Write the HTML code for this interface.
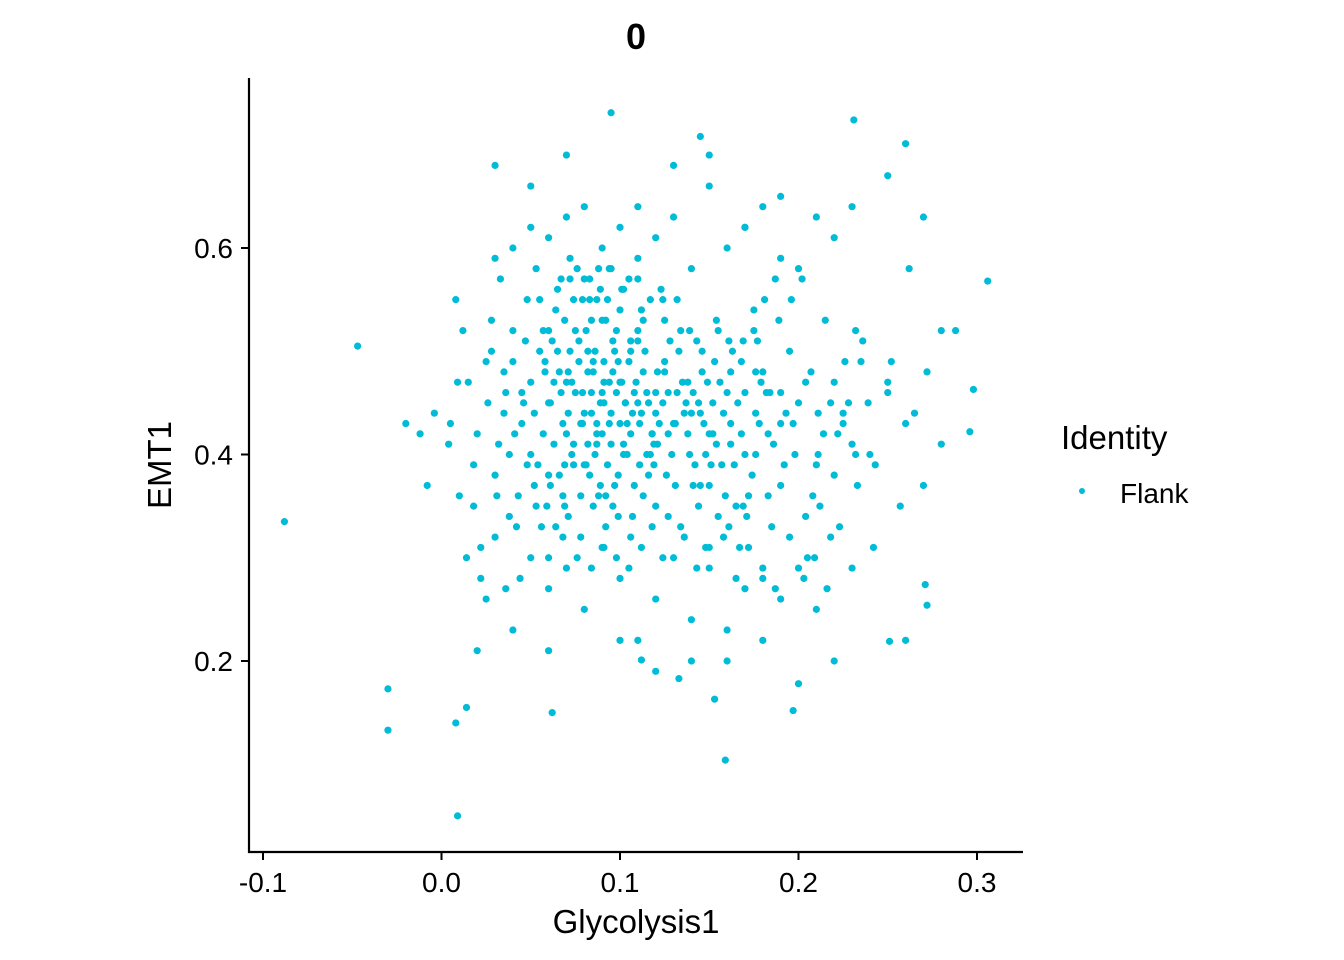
<!DOCTYPE html>
<html><head><meta charset="utf-8">
<style>
html,body{margin:0;padding:0;background:#fff;}
svg{display:block;font-family:"Liberation Sans",Arial,sans-serif;}
</style></head>
<body>
<svg id="chart" width="1344" height="960" viewBox="0 0 1344 960">
  <rect width="1344" height="960" fill="#fff"/>
  <text x="636" y="49" font-size="36" font-weight="bold" text-anchor="middle">0</text>
  <g id="points"></g>
  <line x1="249" y1="78" x2="249" y2="853" stroke="#000" stroke-width="2.2"/>
  <line x1="248" y1="852" x2="1023" y2="852" stroke="#000" stroke-width="2.2"/>
  <g id="xticks"></g>
  <g id="yticks"></g>
  <text x="636" y="933" font-size="33" text-anchor="middle">Glycolysis1</text>
  <text transform="translate(171,465) rotate(-90)" font-size="33" text-anchor="middle">EMT1</text>
  <g>
    <text x="1061" y="449" font-size="33">Identity</text>
    <circle cx="1082" cy="491" r="3" fill="#00BCD6"/>
    <text x="1120" y="503" font-size="28">Flank</text>
  </g>
</svg>
<script>
const xTicks = [-0.1, 0.0, 0.1, 0.2, 0.3];
const xTickLabels = ["-0.1", "0.0", "0.1", "0.2", "0.3"];
const yTicks = [0.2, 0.4, 0.6];
const yTickLabels = ["0.2", "0.4", "0.6"];
const glycolysis = [
.06,.07,.08,.09,.10,.11,.12,.065,.075,.085,.095,.105,.115,.07,.08,.09,.10,.06,.11,.12,
.055,.072,.088,.093,.101,.118,.125,.063,.078,.083,.097,.108,.112,.068,.082,.091,.104,.058,.116,.128,
.045,.05,.04,.035,.03,.025,.02,.015,.01,.005,.048,.038,.028,.022,.042,.052,.033,.018,.012,.044,
.14,.15,.16,.17,.18,.19,.20,.21,.22,.23,.145,.155,.165,.175,.185,.195,.205,.215,.225,.235,
.24,.25,.26,.27,.28,.13,.135,.142,.152,.162,.172,.182,.192,.202,.212,.222,.232,.242,.252,.262,
.06,.07,.08,.09,.10,.11,.12,.13,.14,.15,.16,.17,.18,.19,.20,.21,.05,.04,.03,.025,
.06,.07,.08,.09,.10,.11,.12,.13,.14,.15,.16,.17,.18,.19,.20,.21,.22,.05,.04,.03,
.066,.074,.081,.087,.094,.099,.107,.113,.121,.127,.133,.138,.146,.151,.158,.163,.168,.174,.179,.186,
.062,.071,.079,.086,.092,.098,.106,.111,.119,.124,.131,.137,.144,.149,.157,.161,.169,.176,.183,.189,
.057,.064,.073,.077,.084,.089,.096,.103,.109,.114,.122,.129,.134,.141,.147,.153,.159,.166,.171,.178,
.053,.059,.067,.076,.083,.087,.094,.102,.107,.116,.123,.126,.136,.143,.148,.154,.162,.167,.177,.184,
.035,.041,.047,.026,.031,.018,.009,.004,-.004,-.012,-.02,.014,.022,.038,.046,.056,.008,-.008,.028,.036,
.19,.198,.207,.214,.22,.228,.236,.243,.25,.257,.265,.272,.28,.288,.196,.204,.211,.218,.226,.233,
.03,.05,.07,.11,.13,.15,.17,.19,.23,.25,.27,.02,.06,.10,.14,.18,.22,.26,.12,.16,
.075,.082,.089,.095,.101,.068,.079,.091,.103,.087,.072,.098,.084,.093,.069,.106,.078,.089,.096,.083,
.052,.058,.063,.069,.074,.079,.085,.090,.096,.102,.108,.113,.118,.124,.057,.066,.073,.081,.088,.094,
.100,.106,.112,.117,.061,.067,.071,.077,.084,.091,.097,.104,.110,.115,.121,.127,.132,.139,.145,.152,
.054,.061,.069,.074,.082,.086,.092,.099,.105,.111,.119,.125,.131,.138,.144,.150,.156,.164,.170,.176,
.045,.050,.040,.055,.060,.048,.043,.036,.032,.053,.064,.071,.078,.085,.092,.099,.106,.113,.120,.127,
.134,.141,.148,.155,.162,.169,.176,.183,.190,.197,.204,.211,.218,.225,.232,.239,.181,.187,.193,.208,
.065,.072,.080,.087,.095,.102,.110,.117,.125,.132,.139,.146,.154,.161,.168,.175,.060,.068,.076,.084,
.091,.098,.105,.112,.118,.124,.136,.143,.150,.158,.165,.172,.180,.187,.195,.203,.209,.216,.223,.230,
-.088,-.047,-.030,-.030,.009,.014,.008,.062,.159,.095,.145,.231,.260,.306,.296,.298,.271,.272,.251,.200,.197,.153,.133,.112
];
const emt = [
.45,.47,.44,.46,.43,.45,.44,.50,.52,.48,.41,.49,.40,.42,.39,.53,.47,.38,.51,.46,
.55,.57,.36,.55,.56,.42,.48,.41,.43,.57,.50,.37,.54,.36,.50,.45,.40,.48,.38,.51,
.46,.40,.52,.44,.38,.49,.42,.47,.36,.43,.55,.34,.50,.31,.33,.37,.57,.39,.52,.28,
.44,.42,.46,.40,.48,.43,.45,.39,.47,.41,.37,.52,.35,.54,.33,.50,.30,.53,.44,.49,
.40,.46,.43,.37,.52,.43,.47,.39,.45,.41,.36,.46,.39,.57,.35,.42,.52,.31,.49,.58,
.27,.29,.25,.31,.28,.22,.26,.30,.24,.29,.23,.27,.28,.26,.29,.25,.30,.23,.32,.26,
.61,.63,.64,.60,.62,.59,.61,.63,.58,.66,.60,.62,.64,.59,.58,.63,.61,.62,.60,.59,
.48,.39,.52,.43,.47,.38,.44,.53,.41,.46,.50,.42,.48,.39,.44,.50,.42,.38,.47,.41,
.51,.44,.46,.40,.53,.46,.51,.43,.39,.55,.37,.45,.35,.47,.39,.33,.51,.44,.36,.53,
.42,.54,.40,.49,.44,.56,.35,.45,.47,.50,.43,.40,.52,.46,.43,.49,.36,.45,.34,.43,
.58,.35,.46,.58,.38,.42,.58,.41,.34,.45,.56,.38,.44,.51,.31,.41,.48,.31,.51,.46,
.48,.42,.51,.45,.36,.35,.47,.41,.44,.42,.43,.30,.28,.40,.45,.33,.55,.37,.53,.27,
.46,.40,.48,.42,.38,.45,.51,.39,.47,.35,.44,.48,.41,.52,.55,.34,.44,.32,.49,.37,
.68,.66,.69,.64,.68,.69,.62,.65,.64,.67,.63,.21,.21,.22,.20,.22,.20,.22,.19,.20,
.46,.48,.45,.44,.47,.43,.43,.49,.45,.41,.50,.52,.53,.39,.39,.42,.36,.37,.48,.55,
.44,.49,.47,.53,.41,.55,.49,.42,.51,.40,.46,.48,.42,.45,.52,.38,.47,.39,.58,.43,
.54,.50,.44,.40,.45,.57,.48,.51,.46,.47,.37,.43,.52,.46,.48,.42,.46,.40,.44,.42,
.39,.37,.35,.55,.41,.50,.36,.49,.57,.39,.41,.49,.43,.47,.45,.37,.47,.39,.46,.40,
.43,.47,.49,.50,.52,.39,.36,.46,.41,.35,.33,.34,.32,.35,.33,.34,.32,.36,.35,.34,
.33,.37,.40,.34,.43,.35,.48,.42,.37,.43,.47,.40,.45,.43,.40,.45,.55,.57,.44,.36,
.56,.59,.57,.55,.58,.56,.57,.55,.53,.55,.52,.50,.53,.51,.49,.52,.30,.32,.30,.29,
.31,.30,.29,.31,.33,.30,.32,.29,.31,.32,.28,.31,.29,.27,.32,.28,.30,.27,.33,.29,
.335,.505,.173,.133,.050,.155,.140,.150,.104,.731,.708,.724,.701,.568,.422,.463,.274,.254,.219,.178,.152,.163,.183,.201
];

const NS = "http://www.w3.org/2000/svg";
function xScale(v){ return 441.5 + v * 1785; }
function yScale(v){ return 454.5 - (v - 0.4) * 1032.5; }

const pts = document.getElementById("points");
const n = Math.min(glycolysis.length, emt.length);
for (let i = 0; i < n; i++) {
  const c = document.createElementNS(NS, "circle");
  c.setAttribute("cx", xScale(glycolysis[i]));
  c.setAttribute("cy", yScale(emt[i]));
  c.setAttribute("r", 3.6);
  c.setAttribute("fill", "#00BCD6");
  
  
  pts.appendChild(c);
}

const xg = document.getElementById("xticks");
xTicks.forEach((t, i) => {
  const l = document.createElementNS(NS, "line");
  l.setAttribute("x1", xScale(t)); l.setAttribute("x2", xScale(t));
  l.setAttribute("y1", 852); l.setAttribute("y2", 860);
  l.setAttribute("stroke", "#000"); l.setAttribute("stroke-width", 2);
  
  
  xg.appendChild(l);
  const tx = document.createElementNS(NS, "text");
  tx.setAttribute("x", xScale(t)); tx.setAttribute("y", 892);
  tx.setAttribute("font-size", "28"); tx.setAttribute("text-anchor", "middle");
  tx.setAttribute("fill", "#000");
  tx.textContent = xTickLabels[i];
  
  
  xg.appendChild(tx);
});

const yg = document.getElementById("yticks");
yTicks.forEach((t, i) => {
  const l = document.createElementNS(NS, "line");
  l.setAttribute("x1", 241); l.setAttribute("x2", 249);
  l.setAttribute("y1", yScale(t)); l.setAttribute("y2", yScale(t));
  l.setAttribute("stroke", "#000"); l.setAttribute("stroke-width", 2);
  
  
  yg.appendChild(l);
  const tx = document.createElementNS(NS, "text");
  tx.setAttribute("x", 233); tx.setAttribute("y", yScale(t) + 10);
  tx.setAttribute("font-size", "28"); tx.setAttribute("text-anchor", "end");
  tx.setAttribute("fill", "#000");
  tx.textContent = yTickLabels[i];
  
  
  yg.appendChild(tx);
});
</script>
</body></html>
